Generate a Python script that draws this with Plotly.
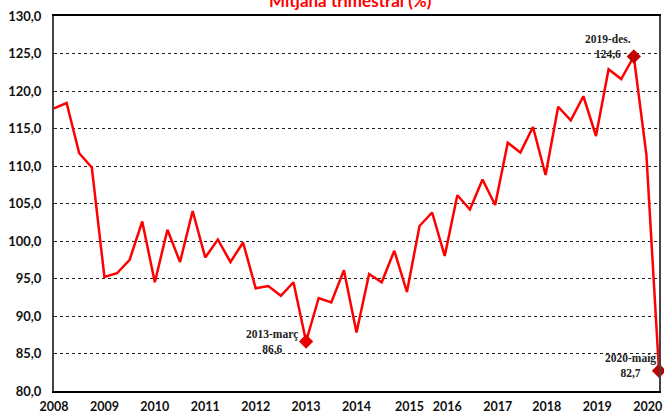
import plotly.graph_objects as go

# Quarterly index values (Mitjana trimestral, %)
values = [117.7, 118.4, 111.7, 109.8, 95.2, 95.7, 97.5, 102.6, 94.5, 101.5,
          97.2, 104.0, 97.8, 100.2, 97.2, 99.8, 93.7, 94.0, 92.7, 94.5,
          86.6, 92.4, 91.8, 96.1, 87.8, 95.6, 94.5, 98.7, 93.2, 102.0,
          103.8, 98.0, 106.1, 104.2, 108.2, 104.8, 113.1, 111.8, 115.2, 108.8,
          117.9, 116.1, 119.3, 114.0, 122.9, 121.6, 124.6, 111.5, 82.7]
x_idx = list(range(len(values)))

year_labels = ["2008", "2009", "2010", "2011", "2012", "2013", "2014",
               "2015", "2016", "2017", "2018", "2019", "2020"]
year_pos = [0, 4, 8, 12, 16, 20, 24, 28.2, 31.2, 35.2, 39.1, 43.1, 47.1]

hl_idx = [20, 46, 48]
hl_labels = ["2013-març", "2019-des.", "2020-maig"]
hl_colors = ["#E80000", "#C00000", "#C00000"]
hl_shift = [(-34, 0), (-26, 10), (-29, 5)]

fig = go.Figure()
fig.add_trace(go.Scatter(
    x=x_idx, y=values, mode="lines",
    line=dict(color="#FF0000", width=2.5),
    hoverinfo="skip", showlegend=False, cliponaxis=False,
))
fig.add_trace(go.Scatter(
    x=hl_idx, y=[values[i] for i in hl_idx], mode="markers",
    marker=dict(symbol="diamond", size=11, color=hl_colors),
    cliponaxis=False, showlegend=False,
))

for i, lab, (dx, dy) in zip(hl_idx, hl_labels, hl_shift):
    v = values[i]
    vtxt = f"{v:.1f}".replace(".", ",")
    fig.add_annotation(
        x=i, y=v, xref="x", yref="y", showarrow=False,
        text=f"{lab}<br>{vtxt}",
        font=dict(family="Liberation Serif", size=11.5, color="#222222", weight="bold"),
        xshift=dx, yshift=dy, align="center",
    )

fig.add_annotation(
    x=0.5, y=1.0, xref="paper", yref="paper", xanchor="center", yanchor="bottom",
    xshift=-6, yshift=3,
    text="<b>Mitjana trimestral (%)</b>", showarrow=False,
    font=dict(family="Lato", size=17, color="#FF0000"),
)

fig.update_layout(
    width=664, height=415,
    margin=dict(l=54, r=5, t=16, b=24),
    paper_bgcolor="white", plot_bgcolor="white",
    separators=",.",
    xaxis=dict(
        range=[0, 48], tickmode="array", tickvals=year_pos, ticktext=year_labels,
        showgrid=False, zeroline=False, showline=True, linecolor="black", linewidth=1.5,
        mirror=True, ticks="", ticklabelstandoff=3, automargin=False,
        tickfont=dict(family="Lato", size=12.5, color="#111111", weight="bold"),
    ),
    yaxis=dict(
        range=[80, 130], tickmode="linear", tick0=80, dtick=5, tickformat=".1f",
        showgrid=True, gridcolor="#222222", griddash="dot", gridwidth=1,
        zeroline=False, showline=True, linecolor="#444444", linewidth=2,
        mirror=True, ticks="", ticklabelstandoff=8, automargin=False,
        tickfont=dict(family="Lato", size=13, color="#111111", weight="bold"),
    ),
)

fig.write_html(
    "out.html",
    config={"displayModeBar": False},
    post_script="document.body.style.margin='0';document.body.style.overflow='hidden';",
)
